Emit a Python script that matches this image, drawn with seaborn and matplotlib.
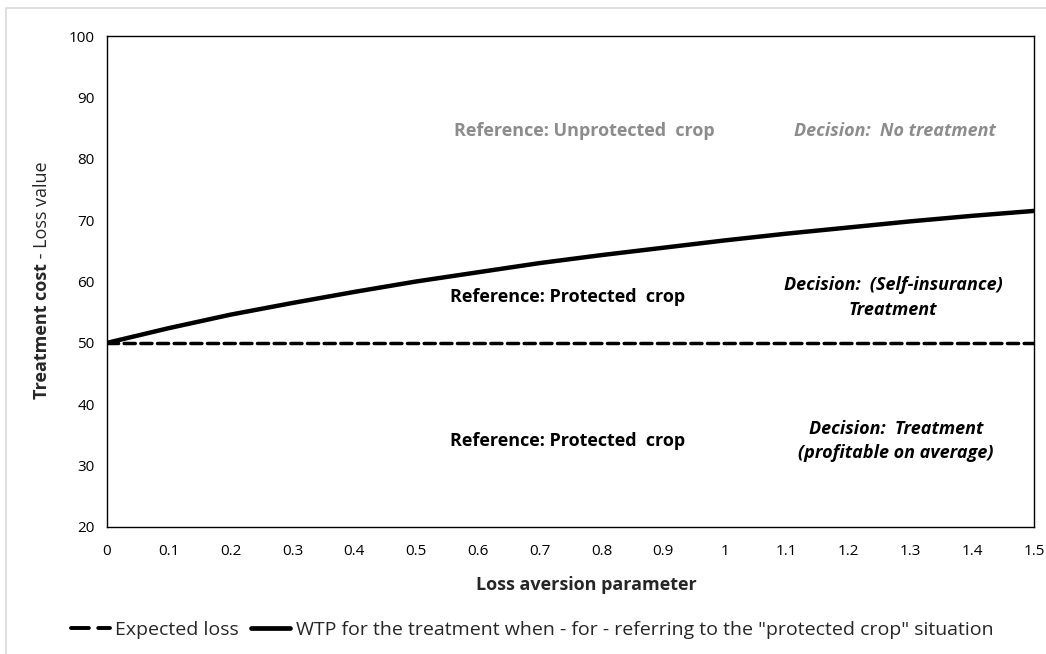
import numpy as np
import pandas as pd
import seaborn as sns
import matplotlib.pyplot as plt
from matplotlib.patches import Rectangle

# loss aversion parameter values (x axis)
loss_aversion = [0.0, 0.1, 0.2, 0.3, 0.4, 0.5, 0.6, 0.7, 0.8, 0.9, 1.0, 1.1, 1.2, 1.3, 1.4, 1.5]
# expected loss (flat)
expected_loss = [50] * len(loss_aversion)
# WTP for the treatment
wtp = [50.0, 52.4, 54.6, 56.5, 58.3, 60.0, 61.5, 63.0, 64.3, 65.5, 66.7, 67.8, 68.8, 69.8, 70.7, 71.5]

x_ticks = [0, 0.1, 0.2, 0.3, 0.4, 0.5, 0.6, 0.7, 0.8, 0.9, 1, 1.1, 1.2, 1.3, 1.4, 1.5]
y_ticks = [20, 30, 40, 50, 60, 70, 80, 90, 100]

label_el = "Expected loss"
label_wtp = 'WTP for the treatment when - for - referring to the "protected crop" situation'

df = pd.DataFrame({
    "lambda": loss_aversion * 2,
    "value": expected_loss + wtp,
    "series": [label_el] * len(loss_aversion) + [label_wtp] * len(loss_aversion),
})

sns.set_style("white")
plt.rcParams['font.family'] = ['Open Sans', 'DejaVu Sans']

fig = plt.figure(figsize=(10.46, 6.54), dpi=100)
ax = fig.add_axes([107 / 1046, 1 - 527 / 654, (1034 - 107) / 1046, (527 - 36) / 654])

# light gray chart border
fig.patches.append(Rectangle((6 / 1046, -0.1), 1.2, (654 - 8) / 654 + 0.1,
                             transform=fig.transFigure, fill=False,
                             edgecolor="#d9d9d9", linewidth=1.2))

sns.lineplot(data=df, x="lambda", y="value", hue="series", style="series",
             palette=["black", "black"], dashes={label_el: (3.2, 1.6), label_wtp: ""},
             ax=ax, legend=False)
ax.lines[0].set_linewidth(2.5)
ax.lines[1].set_linewidth(3.2)
ax.lines[0].set_dash_capstyle("round")

ax.set_xlim(0, 1.5)
ax.set_ylim(20, 100)
ax.set_xticks(x_ticks)
ax.set_xticklabels([f"{t:g}" for t in x_ticks])
ax.set_yticks(y_ticks)
ax.tick_params(axis="both", length=0, labelsize=11, colors="#000000", pad=9)
ax.tick_params(axis="x", pad=12)
for s in ax.spines.values():
    s.set_color("black")
    s.set_linewidth(1.0)

ax.set_ylabel("")
ax.set_xlabel("Loss aversion parameter", fontsize=13, fontweight="bold")
ax.xaxis.set_label_coords((586 - 107) / 927, -0.099)

# y label: bold part + regular part
ylab_bold = "Treatment cost"
ylab_rest = " - Loss value"
t1 = fig.text(42 / 1046, 1 - 331 / 654, ylab_bold, rotation=90, ha="center", va="center",
              fontsize=13, fontweight="bold")
ax.annotate(ylab_rest, xy=(0.5, 1.0), xycoords=t1, rotation=90, ha="center", va="bottom",
            fontsize=13, annotation_clip=False)

gray = "#8c8c8c"
ax.text(0.772, 84.5, "Reference: Unprotected  crop", ha="center", va="center",
        fontsize=13, fontweight="bold", color=gray)
ax.text(1.275, 84.5, "Decision:  No treatment", ha="center", va="center",
        fontsize=13, fontweight="bold", style="italic", color=gray)
ax.text(0.746, 57.4, "Reference: Protected  crop", ha="center", va="center",
        fontsize=13, fontweight="bold", color="black")
ax.text(1.272, 57.4, "Decision:  (Self-insurance)\nTreatment", ha="center", va="center",
        fontsize=13, fontweight="bold", style="italic", color="black", linespacing=1.45)
ax.text(0.746, 34.0, "Reference: Protected  crop", ha="center", va="center",
        fontsize=13, fontweight="bold", color="black")
ax.text(1.277, 34.0, "Decision:  Treatment\n(profitable on average)", ha="center", va="center",
        fontsize=13, fontweight="bold", style="italic", color="black", linespacing=1.45)

handles = [plt.Line2D([], [], color="black", lw=2.8, dashes=(4.6, 2.4), dash_capstyle="round"),
           plt.Line2D([], [], color="black", lw=3.4)]
fig.legend(handles, [label_el, label_wtp], loc="center", bbox_to_anchor=(532 / 1046, 1 - 630 / 654),
           ncol=2, frameon=False, fontsize=14, handlelength=2.0, handletextpad=0.3,
           columnspacing=0.6)

fig.savefig("out.png", dpi=100)
